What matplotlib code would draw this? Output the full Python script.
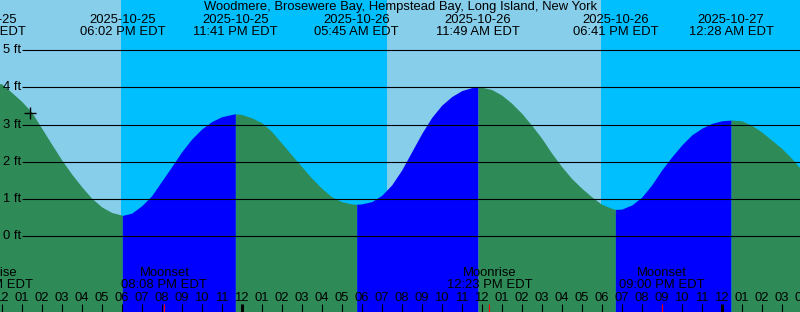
import numpy as np
import matplotlib.pyplot as plt

plt.rcParams['font.family'] = ['Liberation Sans', 'DejaVu Sans']

title = "Woodmere, Brosewere Bay, Hempstead Bay, Long Island, New York"

# time axis: hours since 2025-10-25 12:00 PM EDT
# water level every half hour (ft)
sample_hours = np.arange(0, 40.5, 0.5)
sample_ft = [4.09, 3.86, 3.62, 3.33, 2.90, 2.47, 2.05, 1.67, 1.33, 1.02,
             0.79, 0.64, 0.57, 0.62, 0.82, 1.09, 1.48, 1.87, 2.27, 2.61,
             2.88, 3.08, 3.21, 3.27, 3.27, 3.18, 3.05, 2.81, 2.50, 2.18,
             1.87, 1.56, 1.29, 1.06, 0.93, 0.87, 0.87, 0.93, 1.10, 1.38,
             1.78, 2.27, 2.76, 3.19, 3.52, 3.75, 3.91, 3.99, 4.00, 3.94,
             3.79, 3.57, 3.30, 2.98, 2.63, 2.23, 1.87, 1.55, 1.29, 1.06,
             0.86, 0.75, 0.73, 0.84, 1.05, 1.38, 1.78, 2.13, 2.45, 2.72,
             2.90, 3.03, 3.10, 3.12, 3.10, 2.98, 2.80, 2.58, 2.36, 2.09,
             1.78]

# high / low tides
tide_hours = [-0.9, 6.033, 11.683, 17.75, 23.817, 30.683, 36.467]
tide_ft = [4.15, 0.56, 3.29, 0.86, 4.00, 0.72, 3.12]
tide_dates = ["2025-10-25", "2025-10-25", "2025-10-25", "2025-10-26",
              "2025-10-26", "2025-10-26", "2025-10-27"]
tide_times = ["11:06 AM EDT", "06:02 PM EDT", "11:41 PM EDT", "05:45 AM EDT",
              "11:49 AM EDT", "06:41 PM EDT", "12:28 AM EDT"]

# sunset / sunrise
sun_hours = [5.965, 19.27, 29.965]

# moon events
moon_hours = [-0.53, 8.133, 24.383, 33.0]
moon_names = ["Moonrise", "Moonset", "Moonrise", "Moonset"]
moon_times = ["11:28 AM EDT", "08:08 PM EDT", "12:23 PM EDT", "09:00 PM EDT"]

now_hour, now_ft = 1.415, 3.30
levels = [0, 1, 2, 3, 4, 5]

DAY, NIGHT = '#87CEEB', '#00BFFF'
RISE, FALL = '#0000FF', '#2E8B57'

W, H = 800, 312
X0, X1 = -1.7 / 20, (W - 1.7) / 20
Y0, Y1 = (236.3 - H) / 37.26, 236.3 / 37.26

fig = plt.figure(figsize=(8, 3.12), dpi=100)
ax = fig.add_axes([0, 0, 1, 1])
ax.set_xlim(X0, X1)
ax.set_ylim(Y0, Y1)
ax.axis('off')

# sky: day / night bands
edges = [X0] + sun_hours + [X1]
for i in range(len(edges) - 1):
    ax.axvspan(edges[i], edges[i + 1], color=DAY if i % 2 == 0 else NIGHT, lw=0, zorder=0)

# water: blue when rising, green when falling
h_all = np.concatenate([sample_hours, tide_hours])
f_all = np.concatenate([sample_ft, tide_ft])
order = np.argsort(h_all)
h_all, f_all = h_all[order], f_all[order]
for i in range(len(tide_hours) - 1):
    m = (h_all >= tide_hours[i]) & (h_all <= tide_hours[i + 1])
    col = RISE if tide_ft[i + 1] > tide_ft[i] else FALL
    ax.fill_between(h_all[m], Y0, f_all[m], color=col, lw=0, zorder=1)
m = h_all >= tide_hours[-1]
ax.fill_between(h_all[m], Y0, f_all[m], color=FALL, lw=0, zorder=1)

# level lines
fs = 9.4
for lv in levels:
    ax.hlines(lv, (22 - 1.7) / 20, X1, color='k', lw=0.8, zorder=2)
    ax.text(3 / W, (lv - Y0) / (Y1 - Y0), f"{lv} ft", transform=ax.transAxes,
            ha='left', va='center', fontsize=fs, zorder=3)

ax.plot(now_hour, now_ft, marker='+', ms=8, mew=1, color='k', zorder=3)

# title and tide labels
ax.text(0.5, 1 - 7.3 / H, title, transform=ax.transAxes, ha='center', va='center', fontsize=fs)
for h, d, t in zip(tide_hours, tide_dates, tide_times):
    ax.text(h, Y1 - 19.7 / 37.26, d, ha='center', va='center', fontsize=fs)
    ax.text(h, Y1 - 31.7 / 37.26, t, ha='center', va='center', fontsize=fs)

# moon labels
for h, n, t in zip(moon_hours, moon_names, moon_times):
    ax.text(h, Y1 - 273.3 / 37.26, n, ha='center', va='center', fontsize=fs, zorder=3)
    ax.text(h, Y1 - 285.3 / 37.26, t, ha='center', va='center', fontsize=fs, zorder=3)

# hour ticks
tick_top = Y1 - 304 / 37.26
for hr in range(0, 41):
    lab = f"{(hr % 12) or 12:02d}"
    ax.text(hr, Y1 - 297.7 / 37.26, lab, ha='center', va='center', fontsize=fs, zorder=3)
    midnight = hr % 24 == 12
    ax.vlines(hr, Y0, tick_top, color='k', lw=2.2 if midnight else 0.8, zorder=3)
ax.vlines(moon_hours, Y0, tick_top, color='red', lw=0.8, zorder=3)

fig.savefig('out.png', dpi=100)
